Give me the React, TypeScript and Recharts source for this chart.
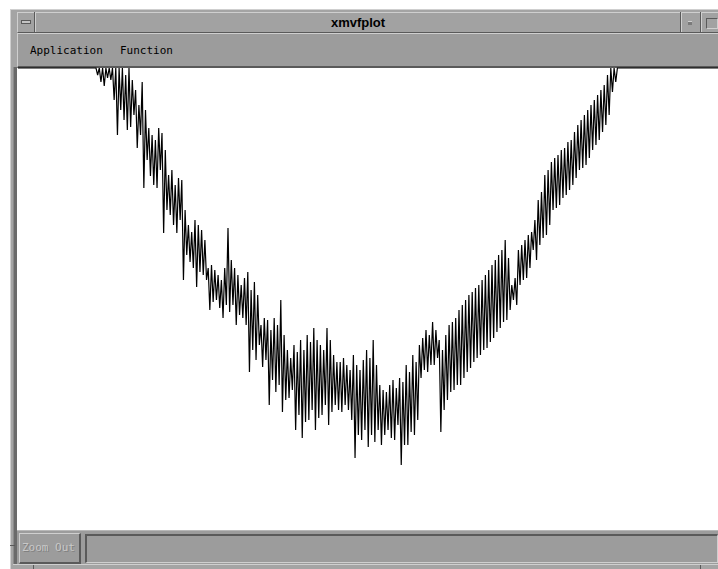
import React from "react";
import { LineChart, Line, XAxis, YAxis } from "recharts";

// Sample index (x) and plotted value (y).
// Values at CEILING are the ones the program clamps to the top edge of the plot.
const CEILING = 462;
const FIRST_INDEX = -48;
const LAST_INDEX = 378;

// Samples, four per row: high, low, high, low (alternating oscillation).
const values: number[] = [
  462, 455, 462, 448,
  462, 444, 462, 452,
  462, 450, 462, 430,
  462, 395, 462, 420,
  462, 410, 455, 400,
  462, 403, 450, 415,
  440, 382, 425, 395,
  448, 342, 420, 370,
  402, 354, 395, 345,
  390, 342, 402, 360,
  397, 297, 380, 320,
  355, 315, 360, 305,
  345, 297, 352, 310,
  350, 250, 320, 275,
  305, 268, 298, 262,
  310, 243, 305, 258,
  300, 255, 290, 250,
  262, 220, 265, 228,
  260, 230, 255, 222,
  250, 212, 262, 225,
  302, 218, 270, 225,
  262, 205, 255, 215,
  245, 212, 252, 205,
  258, 158, 240, 180,
  248, 170, 235, 185,
  205, 163, 212, 170,
  210, 125, 200, 150,
  212, 138, 205, 145,
  230, 118, 195, 130,
  180, 132, 172, 140,
  185, 100, 178, 115,
  190, 92, 180, 108,
  195, 110, 188, 120,
  202, 100, 190, 112,
  185, 115, 180, 125,
  202, 105, 190, 118,
  175, 125, 168, 120,
  168, 118, 172, 125,
  165, 120, 160, 110,
  175, 72, 165, 95,
  160, 90, 170, 100,
  180, 83, 172, 95,
  190, 88, 165, 100,
  145, 85, 140, 95,
  138, 100, 145, 92,
  150, 90, 142, 105,
  152, 65, 148, 85,
  165, 85, 158, 98,
  175, 95, 168, 110,
  185, 152, 192, 160,
  200, 158, 195, 165,
  208, 165, 200, 172,
  190, 98, 180, 120,
  195, 130, 205, 138,
  208, 140, 212, 145,
  220, 145, 225, 152,
  230, 158, 235, 162,
  238, 168, 242, 172,
  245, 175, 250, 180,
  255, 182, 260, 188,
  265, 192, 270, 198,
  275, 202, 280, 208,
  290, 210, 272, 220,
  245, 230, 252, 225,
  280, 245, 285, 250,
  290, 252, 295, 262,
  298, 280, 310, 270,
  330, 285, 338, 292,
  355, 295, 360, 305,
  368, 320, 372, 322,
  375, 325, 380, 332,
  382, 335, 388, 340,
  390, 345, 398, 352,
  405, 360, 410, 362,
  415, 365, 420, 372,
  425, 380, 430, 385,
  435, 390, 440, 398,
  445, 405, 455, 415,
  462, 438, 462, 448,
  462,
];

const xDomain: [number, number] = [-47.27, 376.97];
const yDomain: [number, number] = [0, 464];

const data = [
  { i: FIRST_INDEX, v: CEILING },
  ...values.map((v, i) => ({ i, v })),
  { i: LAST_INDEX, v: CEILING },
];

const GRAY = "#9c9c9c";
const LIGHT = "#cfcfcf";
const DARK = "#5a5a5a";

const abs = (s: React.CSSProperties): React.CSSProperties => ({ position: "absolute", boxSizing: "border-box", ...s });

export default function App() {
  return (
    <div style={abs({ left: 0, top: 0, width: 718, height: 569, background: "#fff", overflow: "hidden", fontFamily: "'DejaVu Sans Mono', monospace" })}>
      {/* window frame */}
      <div style={abs({ left: 10, top: 9, width: 720, height: 562, background: "#a4a4a4", borderTop: `1px solid ${LIGHT}`, borderLeft: `1px solid ${LIGHT}` })} />
      {/* title bar */}
      <div style={abs({ left: 17, top: 12, width: 701, height: 21, background: "#a2a2a2", borderTop: `1px solid ${LIGHT}`, borderLeft: `1px solid ${LIGHT}`, borderBottom: `1px solid ${DARK}` })} />
      <div style={abs({ left: 35, top: 12, width: 1, height: 20, background: LIGHT })} />
      <div style={abs({ left: 34, top: 12, width: 1, height: 20, background: DARK })} />
      <div style={abs({ left: 21, top: 20, width: 10, height: 4, background: "#c4c4c4", border: `1px solid ${DARK}` })} />
      <div style={abs({ left: 36, top: 13, width: 644, height: 19, lineHeight: "19px", textAlign: "center", fontFamily: "'Liberation Sans', Arial, sans-serif", fontWeight: "bold", fontSize: 13, color: "#000" })}>xmvfplot</div>
      <div style={abs({ left: 680, top: 12, width: 1, height: 20, background: DARK })} />
      <div style={abs({ left: 681, top: 12, width: 1, height: 20, background: LIGHT })} />
      <div style={abs({ left: 688, top: 21, width: 4, height: 4, background: "#7a7a7a", borderTop: `1px solid ${LIGHT}` })} />
      <div style={abs({ left: 700, top: 12, width: 1, height: 20, background: DARK })} />
      <div style={abs({ left: 701, top: 12, width: 1, height: 20, background: LIGHT })} />
      <div style={abs({ left: 706, top: 18, width: 12, height: 11, border: `1px solid ${DARK}`, borderRightColor: LIGHT, borderBottomColor: LIGHT })} />
      {/* menu bar */}
      <div style={abs({ left: 17, top: 33, width: 701, height: 35, background: GRAY, borderTop: `1px solid ${LIGHT}`, borderLeft: `1px solid ${LIGHT}`, borderBottom: `2px solid ${DARK}` })} />
      <div style={abs({ left: 30, top: 44, height: 14, lineHeight: "14px", fontSize: 11, color: "#000", whiteSpace: "nowrap" })}>Application</div>
      <div style={abs({ left: 120, top: 44, height: 14, lineHeight: "14px", fontSize: 11, color: "#000", whiteSpace: "nowrap" })}>Function</div>
      {/* plot area */}
      <div style={abs({ left: 13, top: 67, width: 4, height: 498, background: "#6a6a6a", borderLeft: `1px solid #8a8a8a` })} />
      <div style={abs({ left: 17, top: 68, width: 701, height: 462, background: "#fff" })} />
      <div style={abs({ left: 18, top: 66, width: 700, height: 464 })}>
        <LineChart width={700} height={464} data={data} margin={{ top: 0, right: 0, bottom: 0, left: 0 }}>
          <XAxis hide type="number" dataKey="i" domain={xDomain} allowDataOverflow />
          <YAxis hide type="number" domain={yDomain} allowDataOverflow />
          <Line type="linear" dataKey="v" stroke="#000" strokeWidth={1.2} dot={false} activeDot={false} isAnimationActive={false} />
        </LineChart>
      </div>
      {/* bottom bar */}
      <div style={abs({ left: 17, top: 530, width: 701, height: 35, background: GRAY, borderTop: `1px solid #b8b8b8` })} />
      <div style={abs({ left: 19, top: 533, width: 62, height: 31, background: GRAY, borderTop: `1px solid ${LIGHT}`, borderLeft: `1px solid ${LIGHT}`, borderRight: `2px solid ${DARK}`, borderBottom: `2px solid ${DARK}` })} />
      <div style={abs({ left: 22, top: 541, width: 56, height: 14, lineHeight: "14px", fontSize: 11, color: "#c8c8c8", textShadow: "1px 1px 0 #808080", whiteSpace: "nowrap" })}>Zoom Out</div>
      <div style={abs({ left: 85, top: 534, width: 633, height: 29, background: GRAY, borderTop: `2px solid ${DARK}`, borderLeft: `2px solid ${DARK}`, borderBottom: `1px solid ${LIGHT}`, borderRight: `1px solid ${LIGHT}` })} />
      <div style={abs({ left: 13, top: 564, width: 705, height: 1, background: LIGHT })} />
      <div style={abs({ left: 10, top: 545, width: 5, height: 1, background: DARK })} />
      <div style={abs({ left: 33, top: 565, width: 1, height: 4, background: DARK })} />
      <div style={abs({ left: 700, top: 565, width: 1, height: 4, background: DARK })} />
    </div>
  );
}
